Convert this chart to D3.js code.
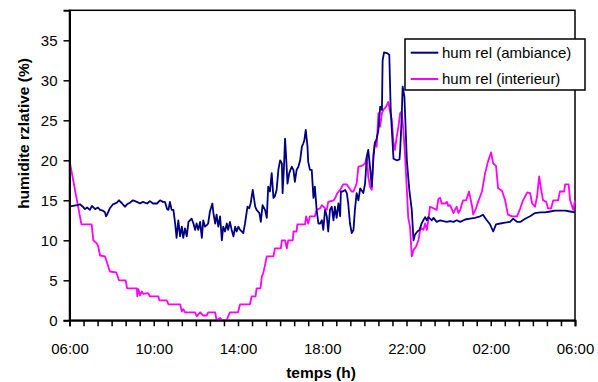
<!DOCTYPE html>
<html>
<head>
<meta charset="utf-8">
<script src="https://cdn.jsdelivr.net/npm/d3@7"></script>
<style>
  body { margin: 0; background: #fff; }
  text { font-family: "Liberation Sans", Arial, sans-serif; fill: #000; }
</style>
</head>
<body>
<div id="chart"></div>
<script>
// minutes since 06:00
const ambMinutes = [0,10,21,30,38,44,50,58,64,73,81,87,95,101,104,107,115,124,135,141,150,158,164,172,181,192,201,209,221,229,238,249,258,266,272,278,282,286,291,296,301,305,310,315,320,324,329,334,339,348,353,358,362,367,372,377,381,386,391,395,400,407,410,415,419,424,429,434,438,443,448,452,457,462,467,472,476,481,486,491,495,500,507,512,516,522,529,533,541,545,550,557,562,566,571,576,581,585,590,595,600,605,607,611,614,617,621,626,633,638,642,647,652,657,662,666,669,673,678,680,685,690,695,699,704,709,714,719,723,728,733,737,742,747,752,756,761,766,771,773,778,785,790,794,799,804,809,813,818,823,828,837,842,847,851,856,861,866,870,875,880,885,890,892,896,904,911,915,923,932,940,942,946,949,954,961,968,975,980,984,991,997,1003,1008,1013,1018,1022,1027,1032,1037,1046,1056,1065,1075,1084,1094,1103,1113,1127,1141,1155,1170,1178,1187,1198,1207,1215,1227,1241,1255,1264,1275,1284,1298,1312,1326,1341,1355,1369,1383,1397,1412,1426,1440];
const ambValues = [14.2,14.3,14.4,14.5,14.2,13.9,14.1,13.8,14.3,13.9,14.1,13.8,13.7,13.5,13.0,13.2,14.0,14.5,14.7,15.0,14.6,14.2,14.5,14.7,15.0,14.8,14.6,14.8,14.6,14.9,14.6,14.6,15.0,14.8,14.8,13.9,13.8,14.8,13.8,13.8,12.1,10.3,12.5,10.5,11.7,10.3,11.5,10.5,12.3,12.7,12.1,11.3,12.1,11.3,12.3,10.3,12.5,11.7,11.9,12.1,13.6,14.6,13.4,12.1,13.2,11.7,13.0,10.0,11.7,11.1,12.1,11.3,12.3,11.3,10.5,11.7,11.1,11.7,11.3,11.1,10.9,12.1,14.2,14.0,14.6,16.3,14.2,13.8,13.4,12.3,14.4,13.8,12.8,16.7,16.1,18.4,15.3,15.5,16.3,18.8,20.0,19.6,15.9,19.2,22.7,20.5,17.1,18.4,19.2,18.8,17.3,18.8,19.2,20.0,21.7,22.1,22.5,23.8,21.7,19.8,18.8,18.8,15.3,16.7,13.8,12.1,12.1,12.5,11.3,13.8,13.0,11.1,13.8,14.2,12.5,14.2,12.8,14.6,13.0,16.1,16.1,16.3,15.9,14.6,12.1,10.9,11.3,13.8,15.9,15.0,16.5,15.9,17.1,20.5,21.3,19.2,16.7,20.5,22.1,22.7,23.8,26.7,26.3,32.5,33.5,33.4,33.2,26.3,20.2,20.0,20.1,21.3,25.0,29.2,28.0,20.0,16.3,13.8,10.0,10.7,11.1,11.3,12.1,12.5,12.9,12.5,12.9,12.7,12.5,12.8,12.3,12.5,12.4,12.3,12.4,12.3,12.5,12.3,12.6,12.7,12.8,13.0,13.2,12.6,12.0,11.1,12.0,12.1,12.2,12.3,12.7,12.3,12.3,12.7,13.0,13.4,13.5,13.5,13.6,13.7,13.7,13.7,13.6,13.5];

const intMinutes = [0,34,63,68,78,82,87,101,107,115,133,141,160,164,192,193,196,201,206,210,224,229,253,256,277,282,315,320,324,329,358,362,372,381,391,395,415,419,429,434,448,452,457,480,486,514,519,530,533,544,548,552,557,562,581,585,602,605,614,619,623,636,638,647,649,671,674,680,685,699,704,714,719,733,737,752,756,763,771,780,790,794,804,809,818,823,833,842,847,851,856,861,866,870,875,880,885,890,894,902,908,913,918,923,927,932,937,942,946,951,956,961,965,970,975,980,987,994,999,1003,1008,1013,1018,1022,1027,1037,1046,1051,1056,1060,1070,1075,1079,1084,1094,1098,1103,1108,1113,1121,1130,1138,1147,1150,1158,1164,1175,1184,1192,1201,1207,1215,1221,1232,1241,1249,1261,1275,1284,1292,1304,1312,1318,1326,1332,1338,1343,1349,1358,1363,1372,1378,1392,1397,1409,1412,1422,1426,1435,1440];
const intValues = [20.0,12.0,12.0,10.0,9.6,9.2,8.1,8.0,7.2,6.1,6.0,5.0,5.0,4.0,4.0,3.0,3.9,3.1,3.6,3.3,3.4,3.0,3.0,2.5,2.5,2.0,2.0,1.1,1.4,1.0,1.0,0.5,1.0,0.6,0.6,1.0,1.0,0.0,0.3,0.0,0.0,0.5,1.0,1.0,2.0,2.0,3.0,3.0,4.0,4.0,5.5,5.9,6.9,8.0,8.0,9.0,9.0,10.0,10.0,9.0,10.0,10.0,11.1,11.1,12.0,12.0,13.0,12.1,13.0,13.0,13.8,14.0,14.4,13.8,14.8,15.0,15.2,15.9,16.3,17.0,17.0,16.7,16.1,16.1,17.1,19.2,19.3,19.6,20.5,18.0,16.7,16.3,20.9,22.3,21.7,25.9,24.2,25.9,26.3,26.7,27.3,26.1,25.1,22.1,21.3,22.9,24.2,25.9,26.1,23.8,20.5,16.3,12.8,11.7,8.0,8.8,9.2,10.0,11.3,11.5,11.3,12.1,11.3,12.5,14.2,14.0,13.8,15.2,15.3,14.6,14.6,14.8,14.3,14.4,13.4,13.8,14.2,13.4,13.8,15.0,15.0,16.1,14.2,13.2,14.0,14.8,16.1,18.4,19.8,21.0,19.6,19.3,16.5,16.2,15.0,13.2,13.0,13.0,14.0,15.0,16.0,15.9,14.6,14.2,15.5,18.0,16.5,15.0,14.8,14.0,14.0,15.0,15.0,16.1,16.1,17.0,17.0,15.0,13.8,15.0];

const seriesNames = ["hum rel (ambiance)", "hum rel (interieur)"];
const seriesColors = ["#000080", "#ff00ff"];
const yTicks = [0, 5, 10, 15, 20, 25, 30, 35];
const xTickLabels = ["06:00", "10:00", "14:00", "18:00", "22:00", "02:00", "06:00"];

const W = 598, H = 382;
const margin = { top: 10.3, right: 23, bottom: 61.7, left: 69.5 };
const width = W - margin.left - margin.right;
const height = H - margin.top - margin.bottom;

const svg = d3.select("#chart").append("svg")
  .attr("width", W).attr("height", H);

const g = svg.append("g")
  .attr("transform", `translate(${margin.left},${margin.top})`);

const x = d3.scaleLinear().domain([0, 1440]).range([0, width]);
const y = d3.scaleLinear().domain([0, 38.75]).range([height, 0]);

// frame
g.append("rect")
  .attr("width", width).attr("height", height)
  .attr("fill", "none").attr("stroke", "#000").attr("stroke-width", 1.5);

const line = d3.line().x(d => x(d[0])).y(d => y(d[1]));

const amb = ambMinutes.map((m, i) => [m, ambValues[i]]);
const int = intMinutes.map((m, i) => [m, intValues[i]]);

[int, amb].forEach((data, k) => {
  g.append("path")
    .datum(data)
    .attr("fill", "none")
    .attr("stroke", k === 0 ? seriesColors[1] : seriesColors[0])
    .attr("stroke-width", 1.8)
    .attr("stroke-linejoin", "round")
    .attr("d", line);
});

// x axis
const xAxis = d3.axisBottom(x)
  .tickValues(d3.range(0, 1441, 40))
  .tickSize(6)
  .tickFormat(d => d % 240 === 0 ? xTickLabels[d / 240] : "");

const gx = g.append("g")
  .attr("transform", `translate(0,${height})`)
  .call(xAxis);
gx.select(".domain").attr("stroke-width", 2);
gx.selectAll(".tick line").attr("stroke-width", 1.5);
gx.selectAll(".tick text")
  .attr("y", 23)
  .style("font-size", "15px")
  .attr("fill", "#000");

// y axis
const yAxis = d3.axisLeft(y)
  .tickValues(yTicks)
  .tickSize(6)
  .tickPadding(6);

const gy = g.append("g").call(yAxis);
gy.select(".domain").attr("stroke-width", 2);
gy.selectAll(".tick line").attr("stroke-width", 1.5);
gy.selectAll(".tick text")
  .style("font-size", "15px")
  .attr("fill", "#000");

// titles
svg.append("text")
  .attr("transform", "translate(29,133.5) rotate(-90)")
  .attr("text-anchor", "middle")
  .style("font-size", "15.5px")
  .style("font-weight", "bold")
  .text("humidite rzlative (%)");

svg.append("text")
  .attr("x", 321).attr("y", 377.5)
  .attr("text-anchor", "middle")
  .style("font-size", "15.5px")
  .style("font-weight", "bold")
  .text("temps (h)");

// legend
const legend = svg.append("g").attr("transform", "translate(405,39)");
legend.append("rect")
  .attr("width", 180).attr("height", 51)
  .attr("fill", "#fff").attr("stroke", "#000").attr("stroke-width", 1.5);

seriesNames.forEach((name, i) => {
  const yy = 13.7 + i * 26.3;
  legend.append("line")
    .attr("x1", 5.7).attr("x2", 33.3)
    .attr("y1", yy).attr("y2", yy)
    .attr("stroke", seriesColors[i]).attr("stroke-width", 2);
  legend.append("text")
    .attr("x", 37).attr("y", yy + 5.3)
    .style("font-size", "15px")
    .text(name);
});
</script>
</body>
</html>
